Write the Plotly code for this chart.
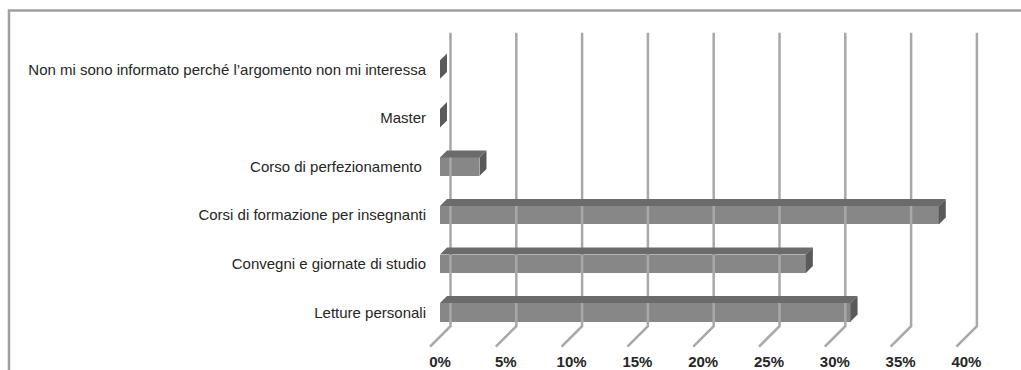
import plotly.graph_objects as go

# Survey answers, bottom to top
categories = [
    "Letture personali",
    "Convegni e giornate di studio",
    "Corsi di formazione per insegnanti",
    "Corso di perfezionamento ",
    "Master",
    "Non mi sono informato perché l’argomento non mi interessa",
]
values = [31.2, 27.8, 37.9, 3.0, 0.0, 0.0]
tick_values = [0, 5, 10, 15, 20, 25, 30, 35, 40]
tick_labels = ["0%", "5%", "10%", "15%", "20%", "25%", "30%", "35%", "40%"]

# Page geometry (pixels) and the oblique 3-D projection
W, H = 1021, 370
KX = 13.16          # px per percentage point
KY = 48.8           # px per category step
X0_PX = 440         # front plane of the bars at 0%
Y0_PX = 314         # centre of the first category
BAR_PX = 18.6       # bar thickness
DEPTH_PX = 7        # bar depth
WALL_PX = 10.5      # back wall behind the bar front plane
FLOOR_FRONT_PX = 10 # floor edge in front of the bar front plane
FLOOR_Y_PX = 338.5  # floor line at the bar front plane
WALL_TOP_PX = 33

xmin, xmax = -X0_PX / KX, (W - X0_PX) / KX
ymax = Y0_PX / KY
ymin = ymax - H / KY

FRONT = "#878787"
TOP = "#6b6b6b"
SIDE = "#5a5a5a"
GRID = "#a8a8a8"
TEXT = "#262626"

ypos = list(range(len(categories)))
half = BAR_PX / KY / 2
ddx, ddy = DEPTH_PX / KX, DEPTH_PX / KY

fig = go.Figure()

# Back wall gridlines bending onto the floor
y_floor = ymax - FLOOR_Y_PX / KY
y_top = ymax - WALL_TOP_PX / KY
gx, gy = [], []
for t in tick_values:
    gx += [t + WALL_PX / KX, t + WALL_PX / KX, t - FLOOR_FRONT_PX / KX, None]
    gy += [y_top, y_floor + WALL_PX / KY, y_floor - FLOOR_FRONT_PX / KY, None]
fig.add_trace(go.Scatter(x=gx, y=gy, mode="lines",
                         line=dict(color=GRID, width=2.5),
                         hoverinfo="skip", showlegend=False))

# Front faces of the bars
fig.add_trace(go.Bar(x=values, y=ypos, orientation="h", width=BAR_PX / KY,
                     marker=dict(color=FRONT, line=dict(width=0)),
                     showlegend=False))

# Top and side faces
for v, y in zip(values, ypos):
    yt = y + half
    yb = y - half
    fig.add_trace(go.Scatter(
        x=[0, v, v + ddx, ddx, 0], y=[yt, yt, yt + ddy, yt + ddy, yt],
        mode="lines", fill="toself", fillcolor=TOP,
        line=dict(width=0, color=TOP), hoverinfo="skip", showlegend=False))
    fig.add_trace(go.Scatter(
        x=[v, v + ddx, v + ddx, v, v], y=[yb, yb + ddy, yt + ddy, yt, yb],
        mode="lines", fill="toself", fillcolor=SIDE,
        line=dict(width=0, color=SIDE), hoverinfo="skip", showlegend=False))

fig.update_layout(
    width=W, height=H,
    margin=dict(l=0, r=0, t=0, b=0),
    paper_bgcolor="white", plot_bgcolor="white",
    font=dict(family="Liberation Sans, Arial, sans-serif", size=15, color=TEXT),
    xaxis=dict(range=[xmin, xmax], anchor="free", position=1 - 353 / H,
               tickvals=tick_values, ticktext=tick_labels,
               showgrid=False, zeroline=False, showline=False, ticks="",
               tickfont=dict(size=15, color=TEXT,
                             family="Liberation Sans, Arial, sans-serif",
                             weight="bold")),
    yaxis=dict(range=[ymin, ymax], anchor="free", position=426 / W,
               tickvals=ypos, ticktext=categories,
               showgrid=False, zeroline=False, showline=False, ticks="",
               tickfont=dict(size=15, color=TEXT)),
    shapes=[dict(type="rect", xref="paper", yref="paper",
                 x0=9 / W, x1=1.05, y0=-0.05, y1=1 - 10.5 / H,
                 line=dict(color="#a0a0a0", width=2.5), layer="below")],
    bargap=0,
)

fig.write_html("out.html")
